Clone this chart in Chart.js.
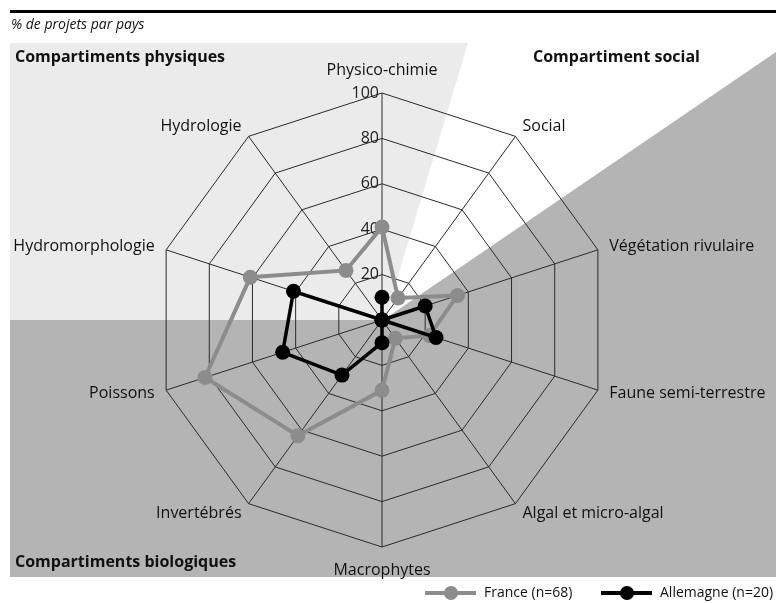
<!DOCTYPE html>
<html lang="fr">
<head>
<meta charset="utf-8">
<title>% de projets par pays</title>
<script src="https://cdn.jsdelivr.net/npm/chart.js@4.4.0/dist/chart.umd.min.js"></script>
<style>
  html, body { margin: 0; padding: 0; background: #fff; }
  #wrap { width: 776px; height: 603px; }
</style>
</head>
<body>
<div id="wrap"><canvas id="radar" width="776" height="603"></canvas></div>
<script>
// ── Data ──
const AXES = [
  'Physico-chimie', 'Social', 'Végétation rivulaire', 'Faune semi-terrestre',
  'Algal et micro-algal', 'Macrophytes', 'Invertébrés', 'Poissons',
  'Hydromorphologie', 'Hydrologie',
];
const FRANCE    = [41, 12, 35, 22, 10, 31, 63, 82, 61, 27];
const ALLEMAGNE = [10,  0, 20, 25,  0, 10, 30, 46, 41,  0];
const SERIES    = ['France (n=68)', 'Allemagne (n=20)'];
const TICKS     = [20, 40, 60, 80, 100];
const CAPTION   = '% de projets par pays';
const ZONES     = ['Compartiments physiques', 'Compartiment social', 'Compartiments biologiques'];

// ── Styles ──
const FONT  = '"Open Sans", sans-serif';
const INK   = '#111';
const GREY  = '#8c8c8c';
const LIGHT = '#ebebeb';
const DARK  = '#b4b4b4';

// ── Background zones + caption ──
const zonesPlugin = {
  id: 'zones',
  beforeDraw(chart) {
    const { ctx } = chart;
    const r = chart.scales.r;
    const cx = r.xCenter, cy = r.yCenter;
    ctx.save();

    // top rule and caption
    ctx.fillStyle = '#000';
    ctx.fillRect(10, 10, 766, 3);
    ctx.font = `italic 14px ${FONT}`;
    ctx.fillStyle = INK;
    ctx.textBaseline = 'middle';
    ctx.fillText(CAPTION, 11, 25);

    // physical compartments (light grey)
    ctx.fillStyle = LIGHT;
    ctx.beginPath();
    ctx.moveTo(10, 43);
    ctx.lineTo(468, 43);
    ctx.lineTo(cx + 4, cy - 4);
    ctx.lineTo(cx, cy);
    ctx.lineTo(10, cy);
    ctx.closePath();
    ctx.fill();

    // biological compartments (dark grey)
    ctx.fillStyle = DARK;
    ctx.beginPath();
    ctx.moveTo(10, cy);
    ctx.lineTo(cx, cy);
    ctx.lineTo(cx + 4, cy - 2);
    ctx.lineTo(776, 52);
    ctx.lineTo(776, 577);
    ctx.lineTo(10, 577);
    ctx.closePath();
    ctx.fill();

    // zone titles
    ctx.font = `bold 16px ${FONT}`;
    ctx.fillStyle = INK;
    ctx.fillText(ZONES[0], 15, 57);
    ctx.fillText(ZONES[1], 533, 57);
    ctx.fillText(ZONES[2], 15, 562);
    ctx.restore();
  },
};

// ── Tick + axis labels ──
const labelsPlugin = {
  id: 'axisLabels',
  beforeDatasetsDraw(chart) {
    const { ctx } = chart;
    const r = chart.scales.r;
    ctx.save();
    ctx.font = `16px ${FONT}`;
    ctx.fillStyle = '#222';
    ctx.textBaseline = 'middle';

    // tick values along the vertical axis
    ctx.textAlign = 'right';
    TICKS.forEach(v => {
      ctx.fillText(String(v), r.xCenter - 3, r.yCenter - r.getDistanceFromCenterForValue(v));
    });

    // axis names around the web
    ctx.fillStyle = INK;
    chart.data.labels.forEach((lbl, i) => {
      const p = r.getPointPosition(i, r.drawingArea + 12);
      const a = r.getIndexAngle(i);
      const s = Math.sin(a), c = Math.cos(a);
      let y = p.y;
      if (Math.abs(s) < 0.01) {
        ctx.textAlign = 'center';
        y -= c * 11;
      } else {
        ctx.textAlign = s > 0 ? 'left' : 'right';
      }
      ctx.fillText(lbl, p.x, y);
    });
    ctx.restore();
  },
};

// ── Legend (line + dot) ──
const legendPlugin = {
  id: 'lineDotLegend',
  afterDraw(chart) {
    const { ctx } = chart;
    const slots = [425, 601];
    ctx.save();
    ctx.font = `14px ${FONT}`;
    ctx.textBaseline = 'middle';
    ctx.textAlign = 'left';
    chart.data.datasets.forEach((ds, i) => {
      const x = slots[i], y = 593;
      ctx.strokeStyle = ds.borderColor;
      ctx.lineWidth = 4;
      ctx.beginPath();
      ctx.moveTo(x, y);
      ctx.lineTo(x + 51, y);
      ctx.stroke();
      ctx.fillStyle = ds.borderColor;
      ctx.beginPath();
      ctx.arc(x + 26, y, 7, 0, Math.PI * 2);
      ctx.fill();
      ctx.fillStyle = INK;
      ctx.fillText(ds.label, x + 59, y);
    });
    ctx.restore();
  },
};

// ── Chart ──
function initChart() {
  const ctx = document.getElementById('radar').getContext('2d');
  const series = (label, data, color, width, order) => ({
    label, data, order,
    borderColor: color, backgroundColor: color,
    pointBackgroundColor: color, pointBorderColor: color,
    borderWidth: width, pointRadius: 7.5, pointBorderWidth: 0,
    fill: false, tension: 0,
  });

  new Chart(ctx, {
    type: 'radar',
    data: {
      labels: AXES,
      datasets: [
        series(SERIES[0], FRANCE, GREY, 4, 2),
        series(SERIES[1], ALLEMAGNE, '#000', 3.5, 1),
      ],
    },
    options: {
      responsive: false,
      animation: false,
      layout: { padding: { left: 155, right: 167, top: 93, bottom: 56 } },
      plugins: { legend: { display: false }, tooltip: { enabled: false } },
      scales: {
        r: {
          min: 0, max: 100,
          startAngle: 0,
          ticks: { stepSize: 20, display: false },
          pointLabels: { display: false },
          grid: { color: '#2a2a2a', lineWidth: 1 },
          angleLines: { color: '#2a2a2a', lineWidth: 1 },
        },
      },
    },
    plugins: [zonesPlugin, labelsPlugin, legendPlugin],
  });
}

document.addEventListener('DOMContentLoaded', initChart);
</script>
</body>
</html>
